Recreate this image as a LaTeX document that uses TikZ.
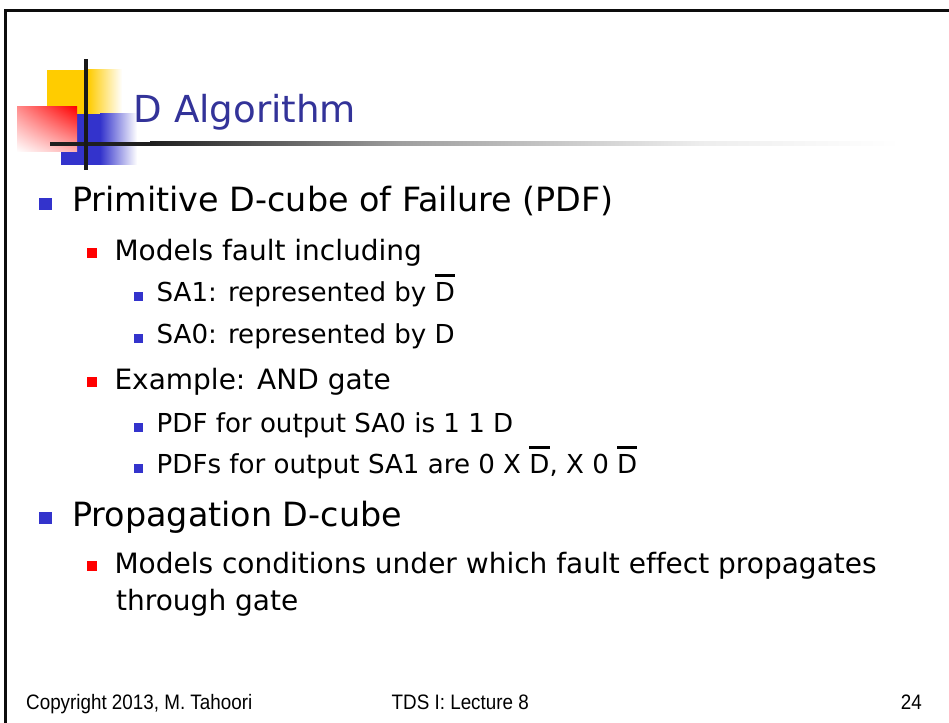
\documentclass[tikz,border=0pt]{standalone}
\usepackage{fontspec}
\usetikzlibrary{shadings}
\setmainfont[Ligatures={NoCommon}]{DejaVu Sans}
\newfontfamily\footfont[FakeStretch=0.9]{Liberation Sans}
\definecolor{titleblue}{HTML}{333399}
\definecolor{bulblue}{HTML}{3333CC}
\definecolor{bulred}{HTML}{FF0000}
\definecolor{logoyellow}{HTML}{FFCC00}
\newcommand\Dbar{\leavevmode\setbox0\hbox{D}\rlap{\rule[0.92em]{\wd0}{0.1em}}D}
\tikzset{
  titletext/.style={anchor=base west, inner sep=0pt, text=titleblue, font=\fontsize{37.3}{44}\selectfont},
  lvlone/.style={anchor=base west, inner sep=0pt, font=\fontsize{33.5}{40}\selectfont},
  lvltwo/.style={anchor=base west, inner sep=0pt, font=\fontsize{28.1}{34}\selectfont},
  lvlthree/.style={anchor=base west, inner sep=0pt, font=\fontsize{26.2}{32}\selectfont},
  foottext/.style={anchor=base west, inner sep=0pt, font=\footfont\fontsize{21}{25}\selectfont},
  bulone/.style={anchor=north west, inner sep=0pt, fill=bulblue, minimum width=13bp, minimum height=12bp},
  bultwo/.style={anchor=north west, inner sep=0pt, fill=bulred, minimum width=10bp, minimum height=10bp},
  bulthree/.style={anchor=north west, inner sep=0pt, fill=bulblue, minimum width=9bp, minimum height=8.5bp}
}
\begin{document}
\begin{tikzpicture}[x=1bp, y=-1bp]
\useasboundingbox (0,0) rectangle (949,723);
\fill[white] (0,0) rectangle (949,723);
% slide border
\fill[black!95] (4,9.5) rectangle (949,12);
\fill[black!95] (4,9.5) rectangle (6.6,723);
% logo
\fill[logoyellow] (47,70) rectangle (88.5,115);
\shade[left color=logoyellow, right color=white] (88,70) rectangle (122,115);
\fill[bulblue] (61,114) rectangle (100.5,165);
\shade[left color=bulblue, right color=white] (100,114) rectangle (137,165);
\shade[upper right=red, upper left=red!45, lower right=red!30, lower left=white] (17,107) rectangle (77,152);
\fill[black!88] (50,142) rectangle (150.5,146);
\shade[left color=black!88, right color=black!38] (150,142) rectangle (400.5,146);
\shade[left color=black!38, right color=black!7] (400,142) rectangle (700.5,146);
\shade[left color=black!7, right color=white] (700,142) rectangle (900,146);
\fill[black!90] (83.5,59) rectangle (87.5,170);
% title
\node[titletext] (title) at (133.5,123) {D Algorithm};
% bullets and text
\node[bulone] (b1) at (39,198) {};
\node[lvlone] (t1) at (72,211) {Primitive D-cube of Failure (PDF)};
\node[bultwo] (b2) at (87,248) {};
\node[lvltwo] (t2) at (114.3,260) {Models fault including};
\node[bulthree] (b3) at (134,292) {};
\node[lvlthree] (t3) at (156.5,301) {SA1: represented by \Dbar};
\node[bulthree] (b4) at (134,334) {};
\node[lvlthree] (t4) at (156.5,343) {SA0: represented by D};
\node[bultwo] (b5) at (87,377) {};
\node[lvltwo] (t5) at (114.3,389) {Example: AND gate};
\node[bulthree] (b6) at (134,423) {};
\node[lvlthree] (t6) at (156.5,432) {PDF for output SA0 is 1 1 D};
\node[bulthree] (b7) at (134,464) {};
\node[lvlthree] (t7) at (156.5,473) {PDFs for output SA1 are 0 X \Dbar, X 0 \Dbar};
\node[bulone] (b8) at (39,512) {};
\node[lvlone] (t8) at (72,526) {Propagation D-cube};
\node[bultwo] (b9) at (87,561) {};
\node[lvltwo] (t9) at (114.3,573) {Models conditions under which fault effect propagates};
\node[lvltwo] (t10) at (116,610) {through gate};
% footer
\node[foottext] (f1) at (26,709) {Copyright 2013, M. Tahoori};
\node[foottext] (f2) at (391.5,709) {TDS I: Lecture 8};
\node[foottext, anchor=base east] (f3) at (922,709) {24};
\end{tikzpicture}
\end{document}
